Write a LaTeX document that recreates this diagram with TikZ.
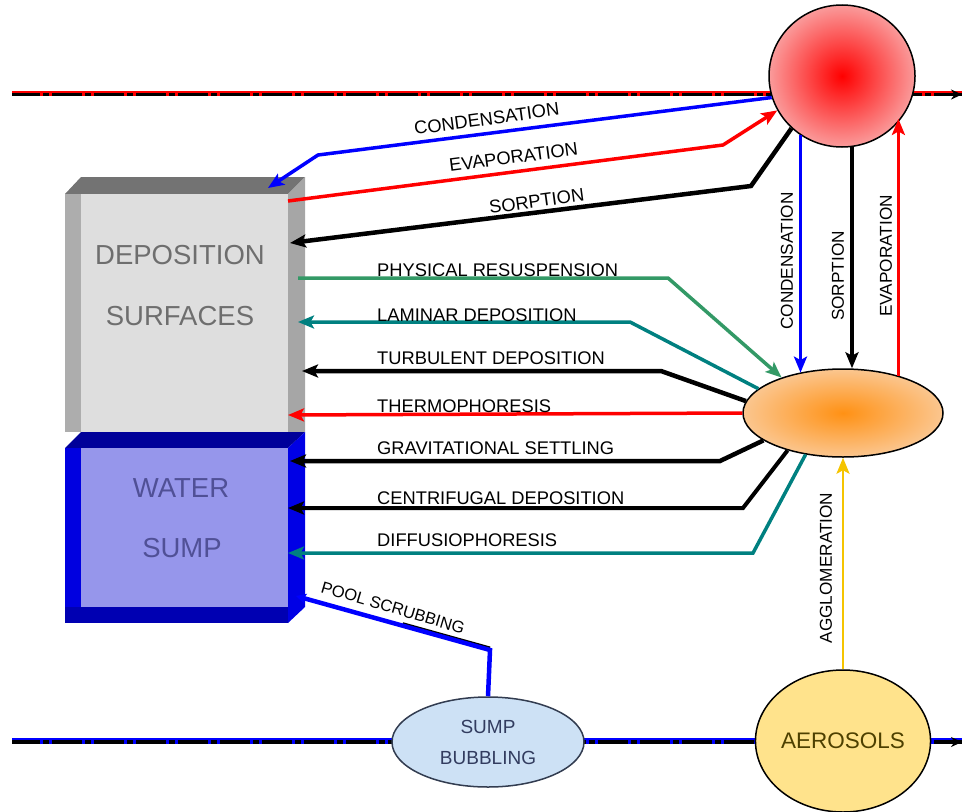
\documentclass[tikz,border=0pt]{standalone}
\usepackage{fontspec}
\setmainfont{Liberation Sans}
\usetikzlibrary{arrows.meta,shapes.geometric,calc}
\definecolor{tealc}{HTML}{008080}
\definecolor{greenc}{HTML}{339966}
\definecolor{yellc}{HTML}{F5C400}
\definecolor{blueb}{HTML}{0000FF}
\definecolor{redc}{HTML}{FF0000}
\begin{document}
\begin{tikzpicture}[x=1pt,y=-1pt,
  lbl/.style={font=\fontsize{18.3}{20}\selectfont,inner sep=0pt},
  vlbl/.style={font=\fontsize{17.2}{20}\selectfont,inner sep=0pt,rotate=90},
  tip/.style={-{Stealth[length=16pt,width=13pt,inset=3.5pt]}},
  flow/.style={line width=3.5pt,tip},
  bflow/.style={line width=4.5pt,tip},
  bigtxt/.style={font=\fontsize{27.5}{30}\selectfont,inner sep=0pt}]
\useasboundingbox (0,0) rectangle (963,811);
% ---------- flow lines ----------
\coordinate (tl) at (12,93);
\coordinate (tr) at (962,93);
\coordinate (bl) at (12,741);
\coordinate (br) at (962,741);
\draw[line width=3pt] ([yshift=-1.5pt]tl) -- ([yshift=-1.5pt]tr);
\draw[line width=2pt,redc] ([yshift=1.2pt]tl) -- ([yshift=1.2pt]tr);
\draw[line width=3pt,redc,dash pattern=on 3pt off 6pt on 3pt off 30pt] ([yshift=-1.5pt,xshift=28pt]tl) -- ([yshift=-1.5pt]tr);
\draw[line width=2.5pt,-{Stealth[length=11pt,width=10pt]}] ([yshift=-1.5pt,xshift=-15pt]tr) -- ([yshift=-1.5pt]tr);
\draw[line width=3.5pt] ([yshift=-1pt]bl) -- ([yshift=-1pt]br);
\draw[line width=1.6pt,blueb] ([yshift=1.8pt]bl) -- ([yshift=1.8pt]br);
\draw[line width=3.5pt,blueb,dash pattern=on 3pt off 6pt on 3pt off 30pt] ([yshift=-1pt,xshift=28pt]bl) -- ([yshift=-1pt]br);
\draw[line width=2.5pt,-{Stealth[length=11pt,width=10pt]}] ([yshift=-1pt,xshift=-15pt]br) -- ([yshift=-1pt]br);
% ---------- deposition box ----------
\fill[fill=black!55] (65,194) -- (81,177) -- (305,177) -- (288,194) -- cycle;
\fill[fill=black!32] (65,194) -- (81,194) -- (81,432) -- (65,432) -- cycle;
\fill[fill=black!35] (288,194) -- (305,177) -- (305,432) -- (288,432) -- cycle;
\node[draw=none,fill=black!13,minimum width=207pt,minimum height=238pt,inner sep=0pt,anchor=north west] (dep) at (81,194) {};
\node[bigtxt,text=black!57] (dep1) at (180,255) {DEPOSITION};
\node[bigtxt,text=black!57] (dep2) at (180,316) {SURFACES};
% ---------- water sump ----------
\fill[fill=blue!60!black] (65,448) -- (81,432) -- (305,432) -- (288,448) -- cycle;
\fill[fill=blue!88!black] (65,448) -- (81,448) -- (81,607) -- (65,607) -- cycle;
\fill[fill=blue!90!black] (288,448) -- (305,432) -- (305,607) -- (288,623) -- cycle;
\fill[fill=blue!70!black] (65,623) -- (65,607) -- (288,607) -- (288,623) -- cycle;
\node[draw=none,fill={rgb,255:red,150;green,150;blue,235},minimum width=207pt,minimum height=159pt,inner sep=0pt,anchor=north west] (sump) at (81,448) {};
\node[bigtxt,text={rgb,255:red,80;green,80;blue,150}] (sump1) at (181,488) {WATER};
\node[bigtxt,text={rgb,255:red,80;green,80;blue,150}] (sump2) at (182,548) {SUMP};
% ---------- round nodes ----------
\node[ellipse,draw=black,line width=1.5pt,minimum width=146pt,minimum height=142pt,inner color=red,outer color={rgb,255:red,250;green,155;blue,155},shading=radial,shade] (gas) at (842,76) {};
\node[ellipse,draw=black,line width=1.5pt,minimum width=200pt,minimum height=88pt,inner color={rgb,255:red,255;green,145;blue,20},outer color={rgb,255:red,251;green,198;blue,143},shading=radial,shade] (susp) at (843,413) {};
\node[ellipse,draw=black,line width=1.5pt,minimum width=160pt,minimum height=142pt,fill={rgb,255:red,255;green,227;blue,140},inner sep=0pt,font=\fontsize{22.5}{24}\selectfont,text={rgb,255:red,77;green,64;blue,0}] (aer) at (843,741) {AEROSOLS};
\node[ellipse,draw={rgb,255:red,50;green,60;blue,80},line width=1.5pt,minimum width=192pt,minimum height=90pt,fill={rgb,255:red,205;green,225;blue,245},inner sep=0pt,align=center,font=\fontsize{19}{31}\selectfont,text={rgb,255:red,50;green,60;blue,95}] (bub) at (488,742) {SUMP\\BUBBLING};
% ---------- endpoints on boxes ----------
\coordinate (c1) at (268,188);
\coordinate (e1) at (288,201);
\coordinate (s1) at (290,243);
\coordinate (p1) at (298,278);
\coordinate (l1) at (298,322);
\coordinate (t1) at (302,371);
\coordinate (h1) at (288,415);
\coordinate (g1) at (290,461);
\coordinate (f1) at (288,508);
\coordinate (d1) at (288,553);
\coordinate (ps) at (296,596);
\coordinate (pc) at (490,650);
% ---------- connectors to/from sphere ----------
\draw[flow,blueb] (gas.197) -- (318,155) -- (c1);
\draw[flow,redc] (e1) -- (723,145) -- (gas.208);
\draw[bflow,black] (gas.226) -- (751,186) -- (s1);
\node[lbl,anchor=base west,rotate=7.8] (lc) at (415,135) {CONDENSATION};
\node[lbl,anchor=base west,rotate=7.5] (le) at (450,172) {EVAPORATION};
\node[lbl,anchor=base west,rotate=7.8] (ls) at (490,214) {SORPTION};
% vertical
\draw[flow,blueb] (gas.235) -- (gas.235 |- susp.137);
\draw[bflow,black] (gas.278) -- (gas.278 |- susp.north);
\draw[flow,redc] (susp.34) -- (susp.34 |- gas.324);
\node[vlbl] (vc) at (787,261) {CONDENSATION};
\node[vlbl] (vs) at (838,276) {SORPTION};
\node[vlbl] (vev) at (886,256) {EVAPORATION};
% ---------- connectors to/from suspension ----------
\draw[flow,greenc] (p1) -- (668,278) -- (susp.150);
\draw[flow,tealc] (susp.164) -- (630,322) -- (l1);
\draw[bflow,black] (susp.173) -- (661,371) -- (t1);
\draw[flow,redc] (susp.west) -- (h1);
\draw[bflow,black] (susp.199) -- (720,461) -- (g1);
\draw[flow,line width=4pt,black] (susp.214) -- (743,508) -- (f1);
\draw[flow,tealc] (susp.228) -- (753,553) -- (d1);
\node[lbl,anchor=base west] (lp) at (377,276) {PHYSICAL RESUSPENSION};
\node[lbl,anchor=base west] (ll) at (377,321) {LAMINAR DEPOSITION};
\node[lbl,anchor=base west] (lt) at (377,364) {TURBULENT DEPOSITION};
\node[lbl,anchor=base west] (lh) at (377,412) {THERMOPHORESIS};
\node[lbl,anchor=base west] (lg) at (377,454) {GRAVITATIONAL SETTLING};
\node[lbl,anchor=base west] (lf) at (377,504) {CENTRIFUGAL DEPOSITION};
\node[lbl,anchor=base west] (ld) at (377,546) {DIFFUSIOPHORESIS};
% ---------- agglomeration ----------
\draw[line width=2.5pt,yellc,tip] (aer.north) -- (susp.south);
\node[vlbl] (va) at (826,568) {AGGLOMERATION};
% ---------- pool scrubbing ----------
\draw[line width=3pt,black] ([yshift=2pt]pc) -- ([yshift=2pt]$(pc)!0.45!(ps)$);
\draw[line width=4.5pt,blueb,-{Stealth[length=10pt,width=10pt,inset=2pt]}] (bub.north) -- (pc) -- (ps);
\node[lbl,anchor=base west,rotate=-16.5,font=\fontsize{16.5}{20}\selectfont] (lps) at (320,592) {POOL SCRUBBING};
\end{tikzpicture}
\end{document}
